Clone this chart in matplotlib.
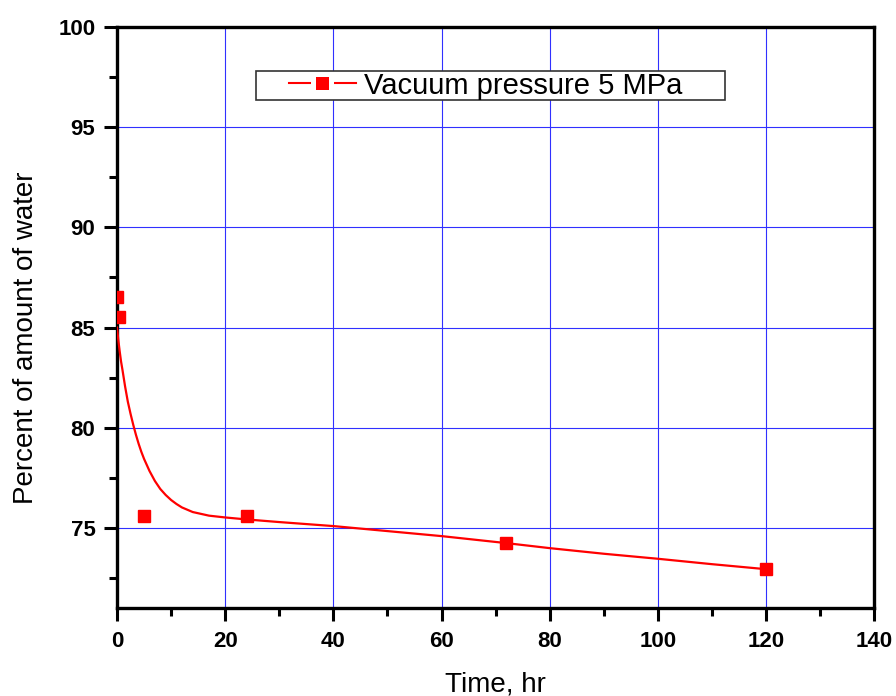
import matplotlib
matplotlib.use("Agg")
import matplotlib.pyplot as plt
from matplotlib.lines import Line2D
from matplotlib.legend_handler import HandlerLine2D

# measured points
time_hr = [0, 0.4, 5, 24, 72, 120]
water_pct = [86.5, 85.55, 75.6, 75.6, 74.25, 72.95]

# fitted curve
fit_time = [0, 0.25, 0.5, 0.75, 1, 1.5, 2, 2.5, 3, 3.5, 4, 4.5, 5, 6, 7, 8, 9,
            10, 11, 12, 14, 17, 20, 24, 30, 40, 50, 60, 72, 80, 90, 100, 110, 120]
fit_pct = [85.0, 84.35, 83.8, 83.3, 82.9, 82.05, 81.3, 80.7, 80.15, 79.65,
           79.2, 78.8, 78.45, 77.85, 77.35, 76.95, 76.65, 76.4, 76.2, 76.03,
           75.8, 75.62, 75.53, 75.43, 75.3, 75.1, 74.85, 74.6, 74.25, 74.0,
           73.72, 73.47, 73.2, 72.95]

series_label = 'Vacuum pressure 5 MPa'

plt.rcParams['font.family'] = ['Liberation Sans', 'DejaVu Sans']

fig = plt.figure(figsize=(8.96, 6.96), dpi=100)
ax = fig.add_axes([0.1306, 0.126, 0.8452, 0.8356])

ax.plot(fit_time, fit_pct, color='#ff0000', lw=1.6, zorder=3)
ax.plot(time_hr, water_pct, ls='none', marker='s', ms=8, color='#ff0000',
        mec='#ff0000', zorder=4)

ax.set_xlim(0, 140)
ax.set_ylim(71, 100)
ax.set_xticks(range(0, 141, 20))
ax.set_xticks(range(10, 140, 20), minor=True)
ax.set_yticks(range(75, 101, 5))
ax.set_yticks([72.5, 77.5, 82.5, 87.5, 92.5, 97.5], minor=True)

ax.grid(True, which='major', color='#3030ff', lw=0.8, zorder=1)
ax.set_axisbelow(True)

for s in ax.spines.values():
    s.set_linewidth(2.4)
ax.tick_params(which='major', direction='out', length=9.5, width=2.2,
               labelsize=16, pad=6)
ax.tick_params(which='minor', direction='out', length=5.5, width=2.2)
ax.tick_params(axis='x', pad=7)
for lab in ax.get_xticklabels() + ax.get_yticklabels():
    lab.set_fontweight('bold')

ax.set_xlabel('Time, hr', fontsize=20)
ax.set_ylabel('Percent of amount of water', fontsize=20)
ax.xaxis.set_label_coords(0.5, -0.108)
ax.yaxis.set_label_coords(-0.103, 0.466)

# legend handle: line with a white gap around the marker
proxy = Line2D([], [], color='#ff0000', lw=1.5, marker='s', ms=12.5,
               mfc='#ff0000', mec='white', mew=3.6)
leg = ax.legend([proxy], [series_label], loc='upper left',
                bbox_to_anchor=(0.1835, 0.8238, 0.6195, 0.1), mode='expand',
                borderaxespad=0, borderpad=0.02, handlelength=3.4,
                handletextpad=0.3, fontsize=21, fancybox=False,
                edgecolor='#333333', framealpha=1,
                handler_map={proxy: HandlerLine2D(xpad=1.1)})
leg.get_frame().set_linewidth(1.2)

fig.savefig('out.png', dpi=100)
